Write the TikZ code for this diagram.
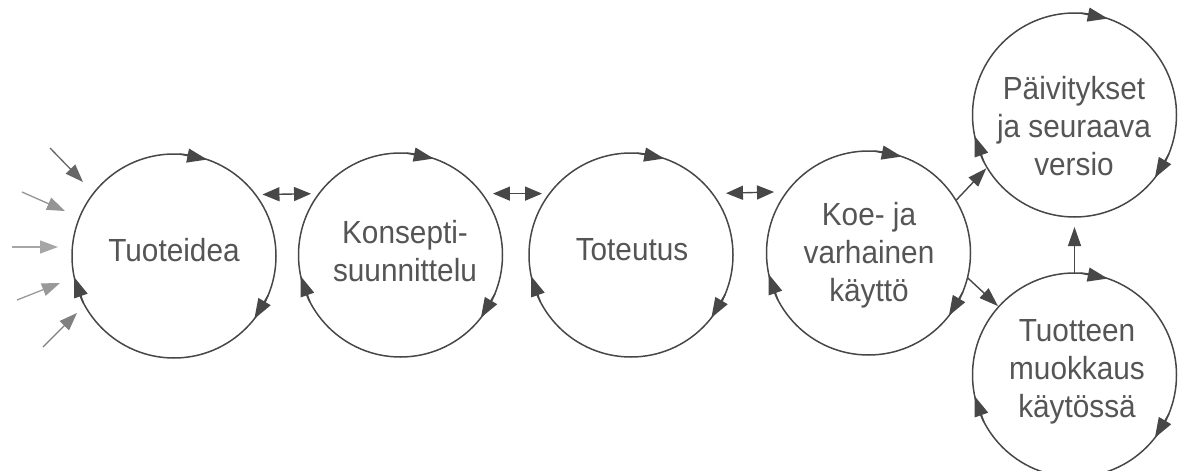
\documentclass[tikz,border=0pt]{standalone}
\usepackage{fontspec}
\setmainfont{Liberation Sans}[FakeStretch=0.93]
\usetikzlibrary{arrows.meta}
\definecolor{ink}{HTML}{474747}
\definecolor{txt}{HTML}{555555}
\begin{document}
\begin{tikzpicture}[x=1pt,y=1pt,
  stage/.style={circle, draw=ink, line width=1.5pt, minimum size=204pt, inner sep=0pt, outer sep=0pt},
  lbl/.style={font=\fontsize{32}{38}\selectfont, text=txt, align=center, inner sep=0pt},
  ctip/.style={-{Triangle[length=20pt,width=14pt]}, ink, line width=1.5pt, shorten <=-1pt},
  flow/.style={-{Triangle[length=19pt,width=13pt]}, ink, line width=1.4pt},
  dbl/.style={{Triangle[length=17pt,width=14pt]}-{Triangle[length=17pt,width=14pt]}, ink, line width=1.4pt},
  feed/.style={-{Triangle[length=18pt,width=13pt]}, line width=1.3pt}]
\useasboundingbox (0,0) rectangle (1184,-471);

% stages
\node[stage] (c1) at (174,-256) {};
\node[stage] (c2) at (400.5,-255) {};
\node[stage] (c3) at (631,-255) {};
\node[stage] (c4) at (868.5,-253) {};
\node[stage] (c5) at (1074.5,-115) {};
\node[stage] (c6) at (1074.5,-375) {};

% labels
\node[lbl] (t1) at (174,-250) {Tuoteidea};
\node[lbl] (t2) at (405,-251) {Konsepti-\\suunnittelu};
\node[lbl] (t3) at (632,-250) {Toteutus};
\node[lbl] (t4) at (869,-255.5) {Koe- ja\\varhainen\\käyttö};
\node[lbl] (t5) at (1074,-126) {Päivitykset\\ja seuraava\\versio};
\node[lbl] (t6) at (1077,-372) {Tuotteen\\muokkaus\\käytössä};

% clockwise arrowheads on each circle (short chords ending at the tip angle)
\foreach \n in {c1,c2,c3,c4,c5,c6}{
  \draw[ctip] (\n.86) -- (\n.71);
  \draw[ctip] (\n.337) -- (\n.322);
  \draw[ctip] (\n.207) -- (\n.192);
}

% double arrows between stages
\draw[dbl, shorten <=7pt, shorten >=8pt] (c1.37) -- (c2.143);
\draw[dbl, shorten <=11pt, shorten >=7.5pt] (c2.37) -- (c3.143);
\draw[dbl, shorten <=13.5pt, shorten >=13pt] (c3.37) -- (c4.143);

% branches
\draw[flow, shorten >=1pt] (c4.31) -- (c5.211);
\draw[flow, shorten >=1pt] (c4.346) -- (c6.138);
\draw[flow, shorten >=10pt] (c6.north) -- (c5.south);

% incoming ideas
\coordinate (f1s) at (50,-148);  \coordinate (f1e) at (83,-182);
\coordinate (f2s) at (22,-192);  \coordinate (f2e) at (65,-211);
\coordinate (f3s) at (12,-247);  \coordinate (f3e) at (58,-247);
\coordinate (f4s) at (17,-300);  \coordinate (f4e) at (60,-283);
\coordinate (f5s) at (43,-347);  \coordinate (f5e) at (77,-313);
\draw[feed, color=black!60] (f1s) -- (f1e);
\draw[feed, color=black!42] (f2s) -- (f2e);
\draw[feed, color=black!35] (f3s) -- (f3e);
\draw[feed, color=black!40] (f4s) -- (f4e);
\draw[feed, color=black!50] (f5s) -- (f5e);
\end{tikzpicture}
\end{document}
